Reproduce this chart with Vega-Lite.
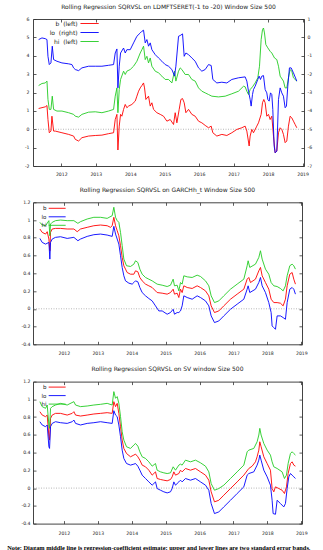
{
"$schema": "https://vega.github.io/schema/vega-lite/v6.json",
"background": "white",
"padding": {"left": 5, "right": 5, "top": 3, "bottom": 2},
"columns": 1,
"align": "none",
"spacing": 9.3,
"config": {
  "font": "DejaVu Sans",
  "view": {"stroke": "#444"},
  "axis": {"domain": false, "grid": false, "labelFont": "DejaVu Sans", "labelFontSize": 4.6, "labelColor": "#222", "tickColor": "#333", "tickSize": -3, "tickWidth": 0.8, "labelFlush": false, "labelOverlap": false, "labelBound": false},
  "line": {"strokeWidth": 0.9}
},
"title": {"text": "Note: Diagam middle line is regression-coefficient estimate; upper and lower lines are two standard error bands.", "orient": "bottom", "anchor": "middle", "font": "Liberation Serif", "fontWeight": "bold", "fontSize": 6.35, "color": "#000", "offset": 10},
"resolve": {"scale": {"x": "independent", "y": "independent", "color": "independent"}},
"datasets": {
"p1b": [{"t":2011.343,"v":1.13},{"t":2011.536,"v":1.22},{"t":2011.585,"v":1.29},{"t":2011.614,"v":0.53},{"t":2011.652,"v":-0.19},{"t":2011.700,"v":-0.10},{"t":2011.729,"v":0.71},{"t":2011.778,"v":-0.10},{"t":2011.826,"v":-0.10},{"t":2012.019,"v":-0.19},{"t":2012.213,"v":-0.28},{"t":2012.357,"v":-0.37},{"t":2012.406,"v":-0.55},{"t":2012.502,"v":-0.64},{"t":2012.599,"v":-0.46},{"t":2012.792,"v":-0.37},{"t":2012.986,"v":-0.34},{"t":2013.179,"v":-0.32},{"t":2013.372,"v":-0.24},{"t":2013.517,"v":-0.19},{"t":2013.565,"v":0.53},{"t":2013.614,"v":0.81},{"t":2013.643,"v":-1.13},{"t":2013.681,"v":0.17},{"t":2013.720,"v":0.81},{"t":2013.758,"v":0.71},{"t":2013.807,"v":1.08},{"t":2013.855,"v":1.35},{"t":2013.903,"v":1.17},{"t":2013.952,"v":1.26},{"t":2014.048,"v":1.35},{"t":2014.145,"v":1.53},{"t":2014.193,"v":1.80},{"t":2014.242,"v":2.07},{"t":2014.290,"v":2.25},{"t":2014.338,"v":2.38},{"t":2014.386,"v":2.52},{"t":2014.415,"v":2.25},{"t":2014.454,"v":1.62},{"t":2014.531,"v":1.80},{"t":2014.580,"v":1.26},{"t":2014.628,"v":1.44},{"t":2014.676,"v":1.08},{"t":2014.773,"v":0.90},{"t":2014.870,"v":0.81},{"t":2014.966,"v":0.71},{"t":2015.063,"v":0.44},{"t":2015.159,"v":0.53},{"t":2015.256,"v":0.26},{"t":2015.304,"v":0.90},{"t":2015.353,"v":0.35},{"t":2015.420,"v":1.08},{"t":2015.469,"v":1.62},{"t":2015.517,"v":1.67},{"t":2015.565,"v":1.44},{"t":2015.614,"v":0.90},{"t":2015.691,"v":1.08},{"t":2015.787,"v":0.81},{"t":2015.884,"v":0.71},{"t":2015.981,"v":0.44},{"t":2016.077,"v":0.35},{"t":2016.174,"v":0.21},{"t":2016.271,"v":0.08},{"t":2016.348,"v":0.17},{"t":2016.396,"v":-0.19},{"t":2016.512,"v":-0.37},{"t":2016.657,"v":-0.28},{"t":2016.802,"v":-0.34},{"t":2016.947,"v":-0.19},{"t":2017.092,"v":-0.01},{"t":2017.237,"v":0.08},{"t":2017.333,"v":0.17},{"t":2017.382,"v":-0.10},{"t":2017.449,"v":-0.91},{"t":2017.478,"v":-0.37},{"t":2017.527,"v":-0.01},{"t":2017.575,"v":-0.19},{"t":2017.671,"v":0.17},{"t":2017.720,"v":0.35},{"t":2017.797,"v":0.81},{"t":2017.836,"v":1.44},{"t":2017.874,"v":1.62},{"t":2017.913,"v":1.44},{"t":2017.961,"v":0.71},{"t":2018.010,"v":0.81},{"t":2018.058,"v":0.53},{"t":2018.106,"v":0.71},{"t":2018.155,"v":-0.37},{"t":2018.203,"v":-1.28},{"t":2018.251,"v":-1.19},{"t":2018.300,"v":-0.19},{"t":2018.348,"v":0.08},{"t":2018.396,"v":-0.01},{"t":2018.444,"v":-0.28},{"t":2018.493,"v":-0.73},{"t":2018.541,"v":-0.64},{"t":2018.589,"v":0.17},{"t":2018.638,"v":0.71},{"t":2018.686,"v":0.62},{"t":2018.734,"v":0.44},{"t":2018.783,"v":0.26},{"t":2018.831,"v":0.08}],
"p1hi": [{"t":2011.343,"v":2.38},{"t":2011.440,"v":2.49},{"t":2011.536,"v":2.52},{"t":2011.585,"v":2.62},{"t":2011.614,"v":1.62},{"t":2011.652,"v":1.08},{"t":2011.700,"v":1.08},{"t":2011.739,"v":1.80},{"t":2011.778,"v":1.08},{"t":2011.874,"v":0.99},{"t":2012.019,"v":0.99},{"t":2012.213,"v":0.90},{"t":2012.357,"v":0.81},{"t":2012.406,"v":0.71},{"t":2012.502,"v":0.66},{"t":2012.599,"v":0.81},{"t":2012.792,"v":0.93},{"t":2012.986,"v":0.95},{"t":2013.179,"v":0.90},{"t":2013.372,"v":0.99},{"t":2013.517,"v":1.08},{"t":2013.565,"v":1.80},{"t":2013.614,"v":2.25},{"t":2013.643,"v":0.90},{"t":2013.681,"v":2.16},{"t":2013.720,"v":2.71},{"t":2013.807,"v":3.16},{"t":2013.855,"v":2.98},{"t":2013.903,"v":3.16},{"t":2014.000,"v":3.25},{"t":2014.097,"v":3.43},{"t":2014.193,"v":3.70},{"t":2014.290,"v":4.15},{"t":2014.338,"v":4.33},{"t":2014.386,"v":4.52},{"t":2014.435,"v":3.79},{"t":2014.483,"v":3.97},{"t":2014.531,"v":3.61},{"t":2014.580,"v":3.88},{"t":2014.628,"v":3.43},{"t":2014.725,"v":3.16},{"t":2014.821,"v":3.07},{"t":2014.918,"v":2.89},{"t":2015.014,"v":2.71},{"t":2015.111,"v":2.71},{"t":2015.208,"v":2.52},{"t":2015.285,"v":3.16},{"t":2015.324,"v":2.62},{"t":2015.401,"v":3.16},{"t":2015.449,"v":3.34},{"t":2015.498,"v":3.25},{"t":2015.594,"v":2.98},{"t":2015.691,"v":2.98},{"t":2015.787,"v":2.71},{"t":2015.884,"v":2.62},{"t":2015.981,"v":2.25},{"t":2016.077,"v":2.07},{"t":2016.174,"v":1.98},{"t":2016.271,"v":1.89},{"t":2016.367,"v":1.80},{"t":2016.560,"v":1.76},{"t":2016.754,"v":1.80},{"t":2016.947,"v":1.93},{"t":2017.140,"v":2.07},{"t":2017.285,"v":2.34},{"t":2017.333,"v":2.31},{"t":2017.382,"v":2.07},{"t":2017.430,"v":1.89},{"t":2017.478,"v":2.16},{"t":2017.546,"v":2.31},{"t":2017.623,"v":2.52},{"t":2017.700,"v":2.80},{"t":2017.749,"v":3.43},{"t":2017.797,"v":4.88},{"t":2017.836,"v":5.42},{"t":2017.865,"v":5.51},{"t":2017.894,"v":5.24},{"t":2017.932,"v":4.61},{"t":2017.990,"v":4.43},{"t":2018.058,"v":4.24},{"t":2018.106,"v":4.15},{"t":2018.184,"v":3.88},{"t":2018.251,"v":3.79},{"t":2018.300,"v":3.43},{"t":2018.348,"v":2.89},{"t":2018.444,"v":2.62},{"t":2018.493,"v":2.25},{"t":2018.541,"v":2.25},{"t":2018.589,"v":2.80},{"t":2018.638,"v":3.25},{"t":2018.686,"v":3.16},{"t":2018.734,"v":2.80},{"t":2018.831,"v":2.62}],
"p1lo": [{"t":2011.343,"v":-0.12},{"t":2011.440,"v":-0.03},{"t":2011.536,"v":-0.07},{"t":2011.585,"v":-0.12},{"t":2011.614,"v":-1.03},{"t":2011.652,"v":-1.48},{"t":2011.700,"v":-1.39},{"t":2011.739,"v":-0.48},{"t":2011.778,"v":-1.21},{"t":2011.874,"v":-1.30},{"t":2012.019,"v":-1.39},{"t":2012.213,"v":-1.44},{"t":2012.309,"v":-1.48},{"t":2012.357,"v":-1.66},{"t":2012.406,"v":-1.75},{"t":2012.502,"v":-1.81},{"t":2012.599,"v":-1.66},{"t":2012.792,"v":-1.57},{"t":2012.986,"v":-1.57},{"t":2013.179,"v":-1.57},{"t":2013.372,"v":-1.52},{"t":2013.517,"v":-1.48},{"t":2013.565,"v":-0.85},{"t":2013.614,"v":-0.63},{"t":2013.643,"v":-2.75},{"t":2013.681,"v":-1.57},{"t":2013.720,"v":-0.85},{"t":2013.807,"v":-0.58},{"t":2013.855,"v":-0.85},{"t":2013.903,"v":-0.67},{"t":2014.000,"v":-0.67},{"t":2014.097,"v":-0.30},{"t":2014.193,"v":0.06},{"t":2014.290,"v":0.24},{"t":2014.338,"v":0.33},{"t":2014.386,"v":0.39},{"t":2014.435,"v":-0.30},{"t":2014.483,"v":-0.12},{"t":2014.531,"v":-0.48},{"t":2014.580,"v":-0.30},{"t":2014.628,"v":-0.67},{"t":2014.725,"v":-0.94},{"t":2014.821,"v":-1.12},{"t":2014.918,"v":-1.30},{"t":2015.014,"v":-1.48},{"t":2015.111,"v":-1.57},{"t":2015.208,"v":-1.75},{"t":2015.285,"v":-2.11},{"t":2015.324,"v":-1.57},{"t":2015.401,"v":0.06},{"t":2015.449,"v":0.10},{"t":2015.517,"v":0.19},{"t":2015.565,"v":-1.03},{"t":2015.614,"v":-0.85},{"t":2015.691,"v":-0.94},{"t":2015.787,"v":-1.12},{"t":2015.884,"v":-1.30},{"t":2015.981,"v":-1.66},{"t":2016.077,"v":-1.84},{"t":2016.174,"v":-1.75},{"t":2016.271,"v":-1.48},{"t":2016.348,"v":-1.53},{"t":2016.396,"v":-2.29},{"t":2016.512,"v":-2.48},{"t":2016.657,"v":-2.44},{"t":2016.802,"v":-2.48},{"t":2016.947,"v":-2.29},{"t":2017.140,"v":-2.20},{"t":2017.333,"v":-2.15},{"t":2017.382,"v":-2.38},{"t":2017.430,"v":-2.93},{"t":2017.478,"v":-3.38},{"t":2017.507,"v":-3.74},{"t":2017.546,"v":-3.11},{"t":2017.575,"v":-2.84},{"t":2017.623,"v":-2.66},{"t":2017.700,"v":-2.29},{"t":2017.739,"v":-2.11},{"t":2017.778,"v":-2.29},{"t":2017.816,"v":-2.11},{"t":2017.865,"v":-2.08},{"t":2017.913,"v":-2.84},{"t":2017.961,"v":-3.02},{"t":2017.990,"v":-3.38},{"t":2018.029,"v":-3.47},{"t":2018.068,"v":-3.02},{"t":2018.106,"v":-3.11},{"t":2018.135,"v":-3.92},{"t":2018.174,"v":-5.91},{"t":2018.203,"v":-6.28},{"t":2018.251,"v":-6.19},{"t":2018.300,"v":-3.38},{"t":2018.348,"v":-2.75},{"t":2018.396,"v":-3.02},{"t":2018.444,"v":-3.20},{"t":2018.493,"v":-3.83},{"t":2018.531,"v":-3.74},{"t":2018.570,"v":-2.66},{"t":2018.618,"v":-1.66},{"t":2018.667,"v":-1.66},{"t":2018.734,"v":-1.93},{"t":2018.831,"v":-2.38}],
"p2b": [{"t":2011.293,"v":0.899},{"t":2011.361,"v":0.861},{"t":2011.460,"v":0.842},{"t":2011.509,"v":0.869},{"t":2011.558,"v":0.786},{"t":2011.587,"v":0.654},{"t":2011.607,"v":0.861},{"t":2011.656,"v":0.899},{"t":2011.754,"v":0.906},{"t":2011.902,"v":0.906},{"t":2012.098,"v":0.899},{"t":2012.295,"v":0.899},{"t":2012.393,"v":0.869},{"t":2012.491,"v":0.899},{"t":2012.688,"v":0.918},{"t":2012.884,"v":0.936},{"t":2013.081,"v":0.944},{"t":2013.277,"v":0.936},{"t":2013.375,"v":0.918},{"t":2013.424,"v":0.936},{"t":2013.473,"v":1.031},{"t":2013.523,"v":0.936},{"t":2013.572,"v":0.880},{"t":2013.621,"v":0.823},{"t":2013.670,"v":0.711},{"t":2013.719,"v":0.579},{"t":2013.768,"v":0.485},{"t":2013.817,"v":0.447},{"t":2013.866,"v":0.409},{"t":2013.965,"v":0.390},{"t":2014.063,"v":0.390},{"t":2014.112,"v":0.428},{"t":2014.181,"v":0.417},{"t":2014.240,"v":0.353},{"t":2014.308,"v":0.315},{"t":2014.407,"v":0.278},{"t":2014.505,"v":0.259},{"t":2014.603,"v":0.240},{"t":2014.750,"v":0.183},{"t":2014.898,"v":0.176},{"t":2015.045,"v":0.165},{"t":2015.143,"v":0.183},{"t":2015.222,"v":0.221},{"t":2015.261,"v":0.165},{"t":2015.340,"v":0.176},{"t":2015.389,"v":0.127},{"t":2015.438,"v":0.221},{"t":2015.487,"v":0.183},{"t":2015.536,"v":0.259},{"t":2015.635,"v":0.240},{"t":2015.782,"v":0.229},{"t":2015.929,"v":0.259},{"t":2016.028,"v":0.240},{"t":2016.175,"v":0.202},{"t":2016.273,"v":0.146},{"t":2016.342,"v":0.033},{"t":2016.440,"v":-0.042},{"t":2016.568,"v":-0.024},{"t":2016.715,"v":0.033},{"t":2016.912,"v":0.108},{"t":2017.108,"v":0.165},{"t":2017.305,"v":0.221},{"t":2017.403,"v":0.334},{"t":2017.452,"v":0.353},{"t":2017.501,"v":0.296},{"t":2017.648,"v":0.334},{"t":2017.747,"v":0.428},{"t":2017.796,"v":0.466},{"t":2017.845,"v":0.372},{"t":2017.943,"v":0.296},{"t":2018.041,"v":0.221},{"t":2018.110,"v":0.108},{"t":2018.189,"v":0.070},{"t":2018.287,"v":0.070},{"t":2018.385,"v":0.063},{"t":2018.464,"v":0.033},{"t":2018.532,"v":0.108},{"t":2018.582,"v":0.259},{"t":2018.660,"v":0.390},{"t":2018.729,"v":0.409},{"t":2018.778,"v":0.334},{"t":2018.827,"v":0.278}],
"p2hi": [{"t":2011.293,"v":0.974},{"t":2011.361,"v":0.944},{"t":2011.460,"v":0.936},{"t":2011.558,"v":0.993},{"t":2011.587,"v":0.823},{"t":2011.607,"v":0.955},{"t":2011.656,"v":0.974},{"t":2011.754,"v":0.993},{"t":2011.902,"v":1.000},{"t":2012.098,"v":0.993},{"t":2012.295,"v":0.993},{"t":2012.413,"v":0.963},{"t":2012.491,"v":0.982},{"t":2012.688,"v":1.012},{"t":2012.884,"v":1.031},{"t":2013.081,"v":1.031},{"t":2013.277,"v":1.019},{"t":2013.424,"v":1.049},{"t":2013.473,"v":1.144},{"t":2013.523,"v":1.031},{"t":2013.572,"v":0.993},{"t":2013.621,"v":0.974},{"t":2013.670,"v":0.861},{"t":2013.719,"v":0.711},{"t":2013.768,"v":0.560},{"t":2013.847,"v":0.485},{"t":2013.965,"v":0.477},{"t":2014.063,"v":0.503},{"t":2014.112,"v":0.541},{"t":2014.181,"v":0.522},{"t":2014.240,"v":0.447},{"t":2014.308,"v":0.390},{"t":2014.407,"v":0.353},{"t":2014.505,"v":0.334},{"t":2014.603,"v":0.315},{"t":2014.750,"v":0.278},{"t":2014.898,"v":0.266},{"t":2015.045,"v":0.251},{"t":2015.143,"v":0.266},{"t":2015.222,"v":0.334},{"t":2015.261,"v":0.259},{"t":2015.340,"v":0.266},{"t":2015.389,"v":0.202},{"t":2015.438,"v":0.296},{"t":2015.487,"v":0.278},{"t":2015.536,"v":0.372},{"t":2015.635,"v":0.360},{"t":2015.782,"v":0.353},{"t":2015.929,"v":0.379},{"t":2016.028,"v":0.364},{"t":2016.175,"v":0.315},{"t":2016.273,"v":0.259},{"t":2016.342,"v":0.146},{"t":2016.440,"v":0.070},{"t":2016.568,"v":0.089},{"t":2016.715,"v":0.146},{"t":2016.912,"v":0.221},{"t":2017.108,"v":0.278},{"t":2017.305,"v":0.334},{"t":2017.403,"v":0.485},{"t":2017.432,"v":0.541},{"t":2017.481,"v":0.466},{"t":2017.648,"v":0.503},{"t":2017.747,"v":0.579},{"t":2017.796,"v":0.654},{"t":2017.845,"v":0.560},{"t":2017.943,"v":0.447},{"t":2018.041,"v":0.390},{"t":2018.110,"v":0.296},{"t":2018.189,"v":0.259},{"t":2018.287,"v":0.251},{"t":2018.385,"v":0.229},{"t":2018.464,"v":0.202},{"t":2018.532,"v":0.259},{"t":2018.582,"v":0.372},{"t":2018.660,"v":0.485},{"t":2018.729,"v":0.503},{"t":2018.778,"v":0.485},{"t":2018.827,"v":0.447}],
"p2lo": [{"t":2011.293,"v":0.793},{"t":2011.361,"v":0.748},{"t":2011.460,"v":0.729},{"t":2011.558,"v":0.748},{"t":2011.587,"v":0.560},{"t":2011.607,"v":0.748},{"t":2011.656,"v":0.786},{"t":2011.754,"v":0.805},{"t":2011.902,"v":0.812},{"t":2012.098,"v":0.793},{"t":2012.295,"v":0.805},{"t":2012.413,"v":0.767},{"t":2012.491,"v":0.786},{"t":2012.688,"v":0.816},{"t":2012.884,"v":0.835},{"t":2013.081,"v":0.842},{"t":2013.277,"v":0.831},{"t":2013.424,"v":0.816},{"t":2013.473,"v":0.929},{"t":2013.523,"v":0.842},{"t":2013.572,"v":0.786},{"t":2013.621,"v":0.729},{"t":2013.670,"v":0.598},{"t":2013.719,"v":0.466},{"t":2013.768,"v":0.372},{"t":2013.817,"v":0.315},{"t":2013.916,"v":0.289},{"t":2014.014,"v":0.278},{"t":2014.063,"v":0.296},{"t":2014.112,"v":0.315},{"t":2014.181,"v":0.304},{"t":2014.240,"v":0.240},{"t":2014.308,"v":0.183},{"t":2014.407,"v":0.146},{"t":2014.505,"v":0.116},{"t":2014.603,"v":0.089},{"t":2014.701,"v":0.033},{"t":2014.800,"v":-0.024},{"t":2014.898,"v":-0.024},{"t":2015.045,"v":-0.061},{"t":2015.143,"v":-0.042},{"t":2015.222,"v":-0.005},{"t":2015.261,"v":-0.061},{"t":2015.340,"v":-0.042},{"t":2015.389,"v":-0.042},{"t":2015.438,"v":-0.024},{"t":2015.487,"v":0.033},{"t":2015.536,"v":0.146},{"t":2015.635,"v":0.127},{"t":2015.782,"v":0.108},{"t":2015.929,"v":0.146},{"t":2016.028,"v":0.127},{"t":2016.175,"v":0.089},{"t":2016.273,"v":0.033},{"t":2016.342,"v":-0.080},{"t":2016.440,"v":-0.155},{"t":2016.568,"v":-0.137},{"t":2016.715,"v":-0.080},{"t":2016.912,"v":-0.005},{"t":2017.108,"v":0.052},{"t":2017.305,"v":0.108},{"t":2017.403,"v":0.221},{"t":2017.432,"v":0.259},{"t":2017.481,"v":0.183},{"t":2017.648,"v":0.221},{"t":2017.747,"v":0.296},{"t":2017.796,"v":0.353},{"t":2017.845,"v":0.259},{"t":2017.943,"v":0.183},{"t":2018.041,"v":0.070},{"t":2018.110,"v":-0.042},{"t":2018.139,"v":-0.193},{"t":2018.189,"v":-0.212},{"t":2018.238,"v":-0.231},{"t":2018.287,"v":-0.080},{"t":2018.385,"v":-0.080},{"t":2018.464,"v":-0.099},{"t":2018.532,"v":-0.118},{"t":2018.582,"v":0.070},{"t":2018.660,"v":0.221},{"t":2018.729,"v":0.240},{"t":2018.778,"v":0.221},{"t":2018.827,"v":0.165}],
"p3b": [{"t":2011.293,"v":0.861},{"t":2011.361,"v":0.823},{"t":2011.460,"v":0.805},{"t":2011.509,"v":0.823},{"t":2011.558,"v":0.579},{"t":2011.578,"v":0.541},{"t":2011.607,"v":0.786},{"t":2011.656,"v":0.823},{"t":2011.754,"v":0.842},{"t":2011.902,"v":0.842},{"t":2012.098,"v":0.823},{"t":2012.246,"v":0.842},{"t":2012.295,"v":0.861},{"t":2012.344,"v":0.823},{"t":2012.491,"v":0.812},{"t":2012.688,"v":0.823},{"t":2012.884,"v":0.835},{"t":2013.081,"v":0.842},{"t":2013.277,"v":0.850},{"t":2013.424,"v":0.842},{"t":2013.473,"v":0.974},{"t":2013.523,"v":0.918},{"t":2013.572,"v":0.955},{"t":2013.621,"v":0.842},{"t":2013.670,"v":0.692},{"t":2013.719,"v":0.541},{"t":2013.768,"v":0.447},{"t":2013.847,"v":0.390},{"t":2013.965,"v":0.353},{"t":2014.063,"v":0.372},{"t":2014.112,"v":0.383},{"t":2014.181,"v":0.353},{"t":2014.240,"v":0.315},{"t":2014.308,"v":0.259},{"t":2014.407,"v":0.240},{"t":2014.505,"v":0.202},{"t":2014.603,"v":0.146},{"t":2014.701,"v":0.183},{"t":2014.750,"v":0.108},{"t":2014.849,"v":0.097},{"t":2014.947,"v":0.089},{"t":2015.045,"v":0.082},{"t":2015.143,"v":0.097},{"t":2015.193,"v":0.127},{"t":2015.242,"v":0.183},{"t":2015.291,"v":0.146},{"t":2015.389,"v":0.164},{"t":2015.438,"v":0.202},{"t":2015.487,"v":0.183},{"t":2015.585,"v":0.221},{"t":2015.733,"v":0.202},{"t":2015.880,"v":0.221},{"t":2016.028,"v":0.183},{"t":2016.175,"v":0.146},{"t":2016.273,"v":0.089},{"t":2016.342,"v":-0.042},{"t":2016.440,"v":-0.155},{"t":2016.568,"v":-0.137},{"t":2016.715,"v":-0.080},{"t":2016.912,"v":-0.005},{"t":2017.108,"v":0.070},{"t":2017.305,"v":0.146},{"t":2017.452,"v":0.221},{"t":2017.550,"v":0.247},{"t":2017.648,"v":0.296},{"t":2017.697,"v":0.353},{"t":2017.747,"v":0.428},{"t":2017.776,"v":0.522},{"t":2017.815,"v":0.466},{"t":2017.894,"v":0.353},{"t":2017.992,"v":0.277},{"t":2018.090,"v":0.202},{"t":2018.139,"v":-0.005},{"t":2018.189,"v":-0.042},{"t":2018.238,"v":0.014},{"t":2018.336,"v":-0.005},{"t":2018.434,"v":-0.024},{"t":2018.503,"v":-0.061},{"t":2018.562,"v":0.014},{"t":2018.611,"v":0.164},{"t":2018.680,"v":0.277},{"t":2018.729,"v":0.296},{"t":2018.778,"v":0.259},{"t":2018.827,"v":0.247}],
"p3hi": [{"t":2011.293,"v":0.974},{"t":2011.361,"v":0.918},{"t":2011.460,"v":0.899},{"t":2011.509,"v":0.936},{"t":2011.558,"v":0.711},{"t":2011.578,"v":0.673},{"t":2011.607,"v":0.899},{"t":2011.656,"v":0.918},{"t":2011.754,"v":0.936},{"t":2011.902,"v":0.955},{"t":2012.098,"v":0.936},{"t":2012.295,"v":0.974},{"t":2012.344,"v":0.936},{"t":2012.491,"v":0.918},{"t":2012.688,"v":0.925},{"t":2012.884,"v":0.936},{"t":2013.081,"v":0.944},{"t":2013.277,"v":0.955},{"t":2013.424,"v":0.936},{"t":2013.473,"v":1.087},{"t":2013.523,"v":1.012},{"t":2013.572,"v":1.031},{"t":2013.621,"v":0.955},{"t":2013.670,"v":0.805},{"t":2013.719,"v":0.635},{"t":2013.768,"v":0.541},{"t":2013.847,"v":0.466},{"t":2013.965,"v":0.447},{"t":2014.063,"v":0.485},{"t":2014.112,"v":0.503},{"t":2014.181,"v":0.473},{"t":2014.240,"v":0.409},{"t":2014.308,"v":0.353},{"t":2014.407,"v":0.334},{"t":2014.505,"v":0.296},{"t":2014.603,"v":0.247},{"t":2014.701,"v":0.277},{"t":2014.750,"v":0.202},{"t":2014.849,"v":0.183},{"t":2014.947,"v":0.172},{"t":2015.045,"v":0.164},{"t":2015.143,"v":0.172},{"t":2015.222,"v":0.240},{"t":2015.291,"v":0.202},{"t":2015.389,"v":0.259},{"t":2015.438,"v":0.270},{"t":2015.487,"v":0.259},{"t":2015.585,"v":0.315},{"t":2015.733,"v":0.296},{"t":2015.880,"v":0.315},{"t":2016.028,"v":0.285},{"t":2016.175,"v":0.247},{"t":2016.273,"v":0.183},{"t":2016.342,"v":0.051},{"t":2016.440,"v":-0.024},{"t":2016.568,"v":-0.005},{"t":2016.715,"v":0.033},{"t":2016.912,"v":0.108},{"t":2017.108,"v":0.183},{"t":2017.305,"v":0.259},{"t":2017.403,"v":0.409},{"t":2017.452,"v":0.428},{"t":2017.599,"v":0.447},{"t":2017.697,"v":0.522},{"t":2017.747,"v":0.598},{"t":2017.776,"v":0.673},{"t":2017.815,"v":0.598},{"t":2017.894,"v":0.503},{"t":2017.992,"v":0.428},{"t":2018.090,"v":0.372},{"t":2018.139,"v":0.296},{"t":2018.189,"v":0.240},{"t":2018.287,"v":0.221},{"t":2018.434,"v":0.183},{"t":2018.503,"v":0.108},{"t":2018.562,"v":0.146},{"t":2018.611,"v":0.277},{"t":2018.680,"v":0.390},{"t":2018.729,"v":0.409},{"t":2018.778,"v":0.390},{"t":2018.827,"v":0.372}],
"p3lo": [{"t":2011.293,"v":0.748},{"t":2011.361,"v":0.711},{"t":2011.460,"v":0.692},{"t":2011.509,"v":0.711},{"t":2011.558,"v":0.466},{"t":2011.578,"v":0.447},{"t":2011.607,"v":0.692},{"t":2011.656,"v":0.729},{"t":2011.754,"v":0.748},{"t":2011.902,"v":0.737},{"t":2012.098,"v":0.729},{"t":2012.246,"v":0.748},{"t":2012.295,"v":0.767},{"t":2012.344,"v":0.729},{"t":2012.491,"v":0.711},{"t":2012.688,"v":0.729},{"t":2012.884,"v":0.737},{"t":2013.081,"v":0.748},{"t":2013.277,"v":0.737},{"t":2013.424,"v":0.729},{"t":2013.473,"v":0.872},{"t":2013.523,"v":0.823},{"t":2013.572,"v":0.805},{"t":2013.621,"v":0.711},{"t":2013.670,"v":0.579},{"t":2013.719,"v":0.428},{"t":2013.768,"v":0.334},{"t":2013.847,"v":0.277},{"t":2013.965,"v":0.259},{"t":2014.063,"v":0.270},{"t":2014.112,"v":0.277},{"t":2014.181,"v":0.247},{"t":2014.240,"v":0.202},{"t":2014.308,"v":0.146},{"t":2014.407,"v":0.108},{"t":2014.505,"v":0.070},{"t":2014.603,"v":0.033},{"t":2014.701,"v":0.070},{"t":2014.750,"v":-0.005},{"t":2014.849,"v":-0.024},{"t":2014.947,"v":-0.042},{"t":2015.045,"v":-0.054},{"t":2015.143,"v":-0.042},{"t":2015.193,"v":-0.005},{"t":2015.242,"v":0.070},{"t":2015.291,"v":0.033},{"t":2015.389,"v":0.070},{"t":2015.438,"v":0.089},{"t":2015.487,"v":0.070},{"t":2015.585,"v":0.108},{"t":2015.733,"v":0.089},{"t":2015.880,"v":0.108},{"t":2016.028,"v":0.070},{"t":2016.175,"v":0.033},{"t":2016.273,"v":-0.024},{"t":2016.342,"v":-0.174},{"t":2016.440,"v":-0.287},{"t":2016.568,"v":-0.268},{"t":2016.715,"v":-0.212},{"t":2016.912,"v":-0.137},{"t":2017.108,"v":-0.061},{"t":2017.305,"v":0.014},{"t":2017.403,"v":0.146},{"t":2017.452,"v":0.164},{"t":2017.599,"v":0.183},{"t":2017.697,"v":0.259},{"t":2017.747,"v":0.315},{"t":2017.776,"v":0.372},{"t":2017.815,"v":0.315},{"t":2017.894,"v":0.202},{"t":2017.992,"v":0.127},{"t":2018.090,"v":0.033},{"t":2018.139,"v":-0.137},{"t":2018.169,"v":-0.287},{"t":2018.238,"v":-0.295},{"t":2018.287,"v":-0.137},{"t":2018.385,"v":-0.174},{"t":2018.483,"v":-0.212},{"t":2018.532,"v":-0.174},{"t":2018.582,"v":-0.005},{"t":2018.631,"v":0.127},{"t":2018.680,"v":0.164},{"t":2018.729,"v":0.146},{"t":2018.778,"v":0.127},{"t":2018.827,"v":0.108}]
},
"concat": [
{
  "width": 271, "height": 147,
  "title": {"text": "Rolling Regression  SQRVSL on LDMFTSERET(-1 to -20) Window Size 500", "font": "DejaVu Sans", "fontSize": 6, "fontWeight": "normal", "color": "#222", "offset": 6.5},
  "layer": [
    {"data": {"values": [{}]}, "mark": {"type": "rule", "color": "#999", "strokeDash": [1, 1.5], "strokeWidth": 0.7},
     "encoding": {"y": {"datum": 0, "type": "quantitative", "scale": {"domain": [-2, 6], "nice": false, "zero": false}, "axis": null}}},
    {"data": {"name": "p1b"}, "mark": {"type": "line", "strokeWidth": 0.9},
     "encoding": {
       "x": {"field": "t", "type": "quantitative", "scale": {"domain": [2011.18, 2019.04], "nice": false, "zero": false}, "axis": {"orient": "bottom", "values": [2012, 2013, 2014, 2015, 2016, 2017, 2018, 2019], "labelExpr": "'' + datum.value", "title": null, "labelPadding": 8}},
       "y": {"field": "v", "type": "quantitative", "scale": {"domain": [-2, 6], "nice": false, "zero": false}, "axis": {"orient": "left", "values": [-2, -1, 0, 1, 2, 3, 4, 5, 6], "labelExpr": "'' + datum.value", "title": null, "labelPadding": 7, "minExtent": 16, "maxExtent": 16}},
       "color": {"datum": "b\u00a0\u00a0(left)", "scale": {"domain": ["b\u00a0\u00a0(left)", "lo\u00a0\u00a0(right)", "hi\u00a0\u00a0(left)"], "range": ["#ff0000", "#0000ff", "#22cc22"]},
         "legend": {"orient": "none", "legendX": 47, "legendY": 1, "title": null, "symbolType": "M-1,0H5", "symbolSize": 37, "symbolStrokeWidth": 1.2, "labelAlign": "right", "labelOffset": -9.4, "labelFont": "DejaVu Sans", "labelFontSize": 6, "labelColor": "#222", "rowPadding": 2, "padding": 0}}
     }},
    {"data": {"name": "p1hi"}, "mark": {"type": "line", "strokeWidth": 0.9},
     "encoding": {
       "x": {"field": "t", "type": "quantitative", "scale": {"domain": [2011.18, 2019.04], "nice": false, "zero": false}, "axis": null},
       "y": {"field": "v", "type": "quantitative", "scale": {"domain": [-2, 6], "nice": false, "zero": false}, "axis": null},
       "color": {"datum": "hi\u00a0\u00a0(left)", "scale": {"domain": ["b\u00a0\u00a0(left)", "lo\u00a0\u00a0(right)", "hi\u00a0\u00a0(left)"], "range": ["#ff0000", "#0000ff", "#22cc22"]}}
     }},
    {"data": {"name": "p1lo"}, "mark": {"type": "line", "strokeWidth": 0.9},
     "encoding": {
       "x": {"field": "t", "type": "quantitative", "scale": {"domain": [2011.18, 2019.04], "nice": false, "zero": false}, "axis": {"orient": "top", "values": [2012, 2013, 2014, 2015, 2016, 2017, 2018, 2019], "labels": false, "title": null}},
       "y": {"field": "v", "type": "quantitative", "scale": {"domain": [-7, 1], "nice": false, "zero": false}, "axis": {"orient": "right", "values": [-7, -6, -5, -4, -3, -2, -1, 0, 1], "labelExpr": "'' + datum.value", "title": null, "labelPadding": 6}},
       "color": {"datum": "lo\u00a0\u00a0(right)", "scale": {"domain": ["b\u00a0\u00a0(left)", "lo\u00a0\u00a0(right)", "hi\u00a0\u00a0(left)"], "range": ["#ff0000", "#0000ff", "#22cc22"]}}
     }}
  ],
  "resolve": {"scale": {"y": "independent"}, "axis": {"x": "independent", "y": "independent"}}
},
{
  "width": 269, "height": 142,
  "title": {"text": "Rolling Regression SQRVSL on GARCHh_t Window Size 500", "font": "DejaVu Sans", "fontSize": 6, "fontWeight": "normal", "color": "#222", "offset": 6.5},
  "layer": [
    {"data": {"values": [{}]}, "mark": {"type": "rule", "color": "#999", "strokeDash": [1, 1.5], "strokeWidth": 0.7},
     "encoding": {"y": {"datum": 0, "type": "quantitative", "scale": {"domain": [-0.4, 1.2], "nice": false, "zero": false}, "axis": null}}},
    {"data": {"name": "p2b"}, "mark": {"type": "line", "strokeWidth": 0.9},
     "encoding": {
       "x": {"field": "t", "type": "quantitative", "scale": {"domain": [2011.09, 2019.02], "nice": false, "zero": false}, "axis": {"orient": "bottom", "values": [2012, 2013, 2014, 2015, 2016, 2017, 2018, 2019], "labelExpr": "'' + datum.value", "title": null, "labelPadding": 9.5}},
       "y": {"field": "v", "type": "quantitative", "scale": {"domain": [-0.4, 1.2], "nice": false, "zero": false}, "axis": {"orient": "left", "values": [-0.4, -0.2, 0, 0.2, 0.4, 0.6, 0.8, 1, 1.2], "labelExpr": "'' + datum.value", "title": null, "labelPadding": 6, "minExtent": 27, "maxExtent": 27}},
       "color": {"datum": "b", "scale": {"domain": ["b", "lo", "hi"], "range": ["#ff0000", "#0000ff", "#22cc22"]},
         "legend": {"orient": "none", "legendX": 15, "legendY": 2.5, "title": null, "symbolType": "M-1,0H5", "symbolSize": 32, "symbolStrokeWidth": 1.2, "labelAlign": "right", "labelOffset": -8.5, "labelFont": "DejaVu Sans", "labelFontSize": 5.5, "labelColor": "#222", "rowPadding": 1.5, "padding": 0}}
     }},
    {"data": {"name": "p2hi"}, "mark": {"type": "line", "strokeWidth": 0.9},
     "encoding": {
       "x": {"field": "t", "type": "quantitative", "scale": {"domain": [2011.09, 2019.02], "nice": false, "zero": false}, "axis": {"orient": "top", "values": [2012, 2013, 2014, 2015, 2016, 2017, 2018, 2019], "labels": false, "title": null}},
       "y": {"field": "v", "type": "quantitative", "scale": {"domain": [-0.4, 1.2], "nice": false, "zero": false}, "axis": {"orient": "right", "values": [-0.4, -0.2, 0, 0.2, 0.4, 0.6, 0.8, 1, 1.2], "labels": false, "title": null}},
       "color": {"datum": "hi", "scale": {"domain": ["b", "lo", "hi"], "range": ["#ff0000", "#0000ff", "#22cc22"]}}
     }},
    {"data": {"name": "p2lo"}, "mark": {"type": "line", "strokeWidth": 0.9},
     "encoding": {
       "x": {"field": "t", "type": "quantitative", "scale": {"domain": [2011.09, 2019.02], "nice": false, "zero": false}, "axis": null},
       "y": {"field": "v", "type": "quantitative", "scale": {"domain": [-0.4, 1.2], "nice": false, "zero": false}, "axis": null},
       "color": {"datum": "lo", "scale": {"domain": ["b", "lo", "hi"], "range": ["#ff0000", "#0000ff", "#22cc22"]}}
     }}
  ],
  "resolve": {"axis": {"x": "independent", "y": "independent"}}
},
{
  "width": 269, "height": 142,
  "title": {"text": "Rolling Regression SQRVSL on SV window Size 500", "font": "DejaVu Sans", "fontSize": 6, "fontWeight": "normal", "color": "#222", "offset": 6.5},
  "layer": [
    {"data": {"values": [{}]}, "mark": {"type": "rule", "color": "#999", "strokeDash": [1, 1.5], "strokeWidth": 0.7},
     "encoding": {"y": {"datum": 0, "type": "quantitative", "scale": {"domain": [-0.4, 1.2], "nice": false, "zero": false}, "axis": null}}},
    {"data": {"name": "p3b"}, "mark": {"type": "line", "strokeWidth": 0.9},
     "encoding": {
       "x": {"field": "t", "type": "quantitative", "scale": {"domain": [2011.09, 2019.02], "nice": false, "zero": false}, "axis": {"orient": "bottom", "values": [2012, 2013, 2014, 2015, 2016, 2017, 2018, 2019], "labelExpr": "'' + datum.value", "title": null, "labelPadding": 9.5}},
       "y": {"field": "v", "type": "quantitative", "scale": {"domain": [-0.4, 1.2], "nice": false, "zero": false}, "axis": {"orient": "left", "values": [-0.4, -0.2, 0, 0.2, 0.4, 0.6, 0.8, 1, 1.2], "labelExpr": "'' + datum.value", "title": null, "labelPadding": 6, "minExtent": 27, "maxExtent": 27}},
       "color": {"datum": "b", "scale": {"domain": ["b", "lo", "hi"], "range": ["#ff0000", "#0000ff", "#22cc22"]},
         "legend": {"orient": "none", "legendX": 15, "legendY": 2, "title": null, "symbolType": "M-1,0H5", "symbolSize": 32, "symbolStrokeWidth": 1.2, "labelAlign": "right", "labelOffset": -8.5, "labelFont": "DejaVu Sans", "labelFontSize": 5.5, "labelColor": "#222", "rowPadding": 1.5, "padding": 0}}
     }},
    {"data": {"name": "p3hi"}, "mark": {"type": "line", "strokeWidth": 0.9},
     "encoding": {
       "x": {"field": "t", "type": "quantitative", "scale": {"domain": [2011.09, 2019.02], "nice": false, "zero": false}, "axis": {"orient": "top", "values": [2012, 2013, 2014, 2015, 2016, 2017, 2018, 2019], "labels": false, "title": null}},
       "y": {"field": "v", "type": "quantitative", "scale": {"domain": [-0.4, 1.2], "nice": false, "zero": false}, "axis": {"orient": "right", "values": [-0.4, -0.2, 0, 0.2, 0.4, 0.6, 0.8, 1, 1.2], "labels": false, "title": null}},
       "color": {"datum": "hi", "scale": {"domain": ["b", "lo", "hi"], "range": ["#ff0000", "#0000ff", "#22cc22"]}}
     }},
    {"data": {"name": "p3lo"}, "mark": {"type": "line", "strokeWidth": 0.9},
     "encoding": {
       "x": {"field": "t", "type": "quantitative", "scale": {"domain": [2011.09, 2019.02], "nice": false, "zero": false}, "axis": null},
       "y": {"field": "v", "type": "quantitative", "scale": {"domain": [-0.4, 1.2], "nice": false, "zero": false}, "axis": null},
       "color": {"datum": "lo", "scale": {"domain": ["b", "lo", "hi"], "range": ["#ff0000", "#0000ff", "#22cc22"]}}
     }}
  ],
  "resolve": {"axis": {"x": "independent", "y": "independent"}}
}
]
}
